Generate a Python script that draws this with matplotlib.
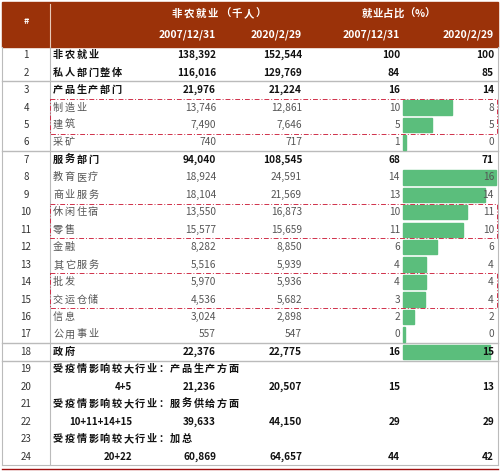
import matplotlib.pyplot as plt
from matplotlib.patches import Rectangle

# --- DATA ---
row_ids = list(range(1, 25))
names = ["非农就业", "私人部门整体", "产品生产部门", "制造业", "建筑", "采矿",
         "服务部门", "教育医疗", "商业服务", "休闲住宿", "零售", "金融", "其它服务",
         "批发", "交运仓储", "信息", "公用事业", "政府",
         "受疫情影响较大行业：产品生产方面", "4+5",
         "受疫情影响较大行业：服务供给方面", "10+11+14+15",
         "受疫情影响较大行业：加总", "20+22"]
emp_2007 = ["138,392", "116,016", "21,976", "13,746", "7,490", "740", "94,040", "18,924",
            "18,104", "13,550", "15,577", "8,282", "5,516", "5,970", "4,536", "3,024", "557",
            "22,376", "", "21,236", "", "39,633", "", "60,869"]
emp_2020 = ["152,544", "129,769", "21,224", "12,861", "7,646", "717", "108,545", "24,591",
            "21,569", "16,873", "15,659", "8,850", "5,939", "5,936", "5,682", "2,898", "547",
            "22,775", "", "20,507", "", "44,150", "", "64,657"]
share_2007 = ["100", "84", "16", "10", "5", "1", "68", "14", "13", "10", "11", "6", "4",
              "4", "3", "2", "0", "16", "", "15", "", "29", "", "44"]
share_2020 = ["100", "85", "14", "8", "5", "0", "71", "16", "14", "11", "10", "6", "4",
              "4", "4", "2", "0", "15", "", "13", "", "29", "", "42"]
bar_rows = [4, 5, 6, 8, 9, 10, 11, 12, 13, 14, 15, 16, 17, 18]
bold_rows = [1, 2, 3, 7, 18, 19, 20, 21, 22, 23, 24]
header_top = ["非农就业（千人）", "就业占比（%）"]
header_dates = ["2007/12/31", "2020/2/29", "2007/12/31", "2020/2/29"]

plt.rcParams['font.family'] = ['Noto Sans CJK SC', 'DejaVu Sans']

fig = plt.figure(figsize=(5.0, 4.71), dpi=100)
ax = fig.add_axes([0, 0, 1, 1])
ax.set_xlim(0, 500)
ax.set_ylim(471, 0)
ax.axis('off')

hdr_c = "#9B3209"
GREEN = "#5BBE7C"
y0, rh = 46.5, 17.45
total = float(emp_2020[0].replace(",", ""))
col_x = [216, 302, 400, 494]

def ry(i):  # center y of row i (1-based)
    return y0 + (i - 0.5) * rh

def rtop(i):
    return y0 + (i - 1) * rh

def spaced(x, y, s, step, **kw):
    # draw chinese labels with wide letter spacing like the source
    for k, ch in enumerate(s):
        ax.text(x + k * step, y, ch, ha="left", va="center", **kw)

# header
ax.add_patch(Rectangle((2, 2), 496, y0 - 2, color=hdr_c, zorder=1))
ax.plot([50, 50], [4, y0], color="#e8c9b8", lw=0.8, zorder=2)
ax.text(26, 22, "#", color="white", ha="center", va="center", fontsize=6.5, fontweight="bold")
spaced(172, 14, header_top[0], 12, color="white", fontsize=7.5, fontweight="bold")
spaced(362, 14, header_top[1], 10.5, color="white", fontsize=7.5, fontweight="bold")
for x, t in zip(col_x, header_dates):
    ax.text(x, 35, t, color="white", ha="right", va="center", fontsize=7.5, fontweight="bold")

# outer frame
ax.plot([2, 2], [y0, rtop(25)], color="#bbbbbb", lw=0.8)
ax.plot([498, 498], [y0, rtop(25)], color="#bbbbbb", lw=0.8)
ax.plot([50, 50], [y0, rtop(25)], color="#bbbbbb", lw=0.8)
ax.plot([2, 498], [rtop(25), rtop(25)], color="#bbbbbb", lw=0.8)
ax.plot([2, 498], [rtop(25) + 4, rtop(25) + 4], color="#a01010", lw=1.0)
for r in [3, 7, 18, 19]:
    ax.plot([2, 498], [rtop(r), rtop(r)], color="#bbbbbb", lw=1.0)

# dashed red boxes
for a, b in [(4, 5), (10, 11), (14, 15)]:
    ax.add_patch(Rectangle((50, rtop(a)), 447, 2 * rh, fill=False, ec="#d0304a",
                           ls=(0, (5, 2, 1, 2)), lw=0.7, zorder=3))

# bars
px_per_pct = 5.8
for r in bar_rows:
    v = float(emp_2020[r - 1].replace(",", "")) / total * 100
    w = max(v * px_per_pct, 2)
    ax.add_patch(Rectangle((403, rtop(r) + 1.5), w, rh - 3, color=GREEN, zorder=2))

# rows
for i in row_ids:
    y = ry(i)
    bold = i in bold_rows
    fw = "bold" if bold else "normal"
    col = "#111111" if bold else "#555555"
    ax.text(26, y, str(i), ha="center", va="center", fontsize=7, color="#333333", zorder=4)
    nm = names[i - 1]
    if nm[0].isdigit():
        ax.text(132, y, nm, ha="right", va="center", fontsize=7, fontweight="bold", color="#111111", zorder=4)
    else:
        spaced(53, y, nm, 11.7, fontsize=7.3, fontweight=fw, color=col, zorder=4)
    for x, vals in zip(col_x, [emp_2007, emp_2020, share_2007, share_2020]):
        ax.text(x, y, vals[i - 1], ha="right", va="center", fontsize=7.3, fontweight=fw,
                color=col, zorder=4)

fig.savefig("out.png", dpi=100)
